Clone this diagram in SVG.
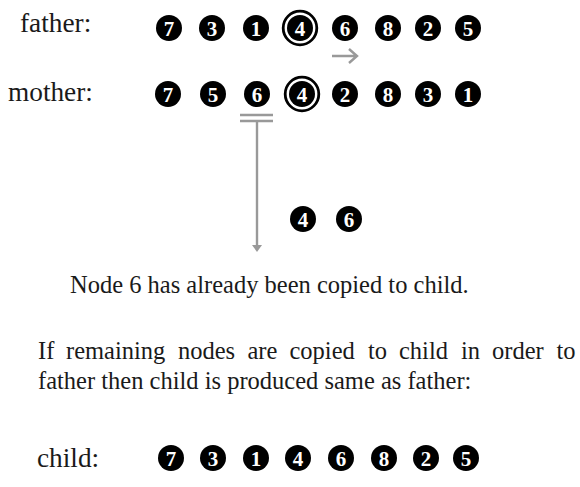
<svg xmlns="http://www.w3.org/2000/svg" width="580" height="487" viewBox="0 0 580 487">
<style>
.lbl{font-family:"Liberation Serif","Times New Roman",serif;font-size:27.3px;fill:#1a1a1a}
.body{font-family:"Liberation Serif","Times New Roman",serif;font-size:24.5px;fill:#1a1a1a}
.dot{fill:#000}
.num{font-family:"Liberation Serif","Times New Roman",serif;font-size:21px;font-weight:bold;fill:#fff;text-anchor:middle}
.ring{fill:#fff;stroke:#000;stroke-width:2.8}
.con{stroke:#999;stroke-width:2.4;fill:none}
</style>
<rect width="580" height="487" fill="#fff"/>
<text class="lbl" x="20" y="32">father:</text>
<text class="lbl" x="8" y="101">mother:</text>
<text class="lbl" x="37" y="467">child:</text>
<text class="body" x="70" y="293">Node 6 has already been copied to child.</text>
<text class="body" y="359"><tspan x="38">If</tspan><tspan x="66">remaining</tspan><tspan x="178">nodes</tspan><tspan x="247.5">are</tspan><tspan x="289.5">copied</tspan><tspan x="368">to</tspan><tspan x="399">child</tspan><tspan x="461">in</tspan><tspan x="492">order</tspan><tspan x="556.5">to</tspan></text>
<text class="body" x="38" y="389">father then child is produced same as father:</text>

<g id="father">
<g id="f7" transform="translate(169,28)"><circle class="dot" r="13"/><text class="num" y="7.5">7</text></g>
<g id="f3" transform="translate(212,28)"><circle class="dot" r="13"/><text class="num" y="7.5">3</text></g>
<g id="f1" transform="translate(256,28)"><circle class="dot" r="13"/><text class="num" y="7.5">1</text></g>
<g id="f4" transform="translate(300,28)"><circle class="ring" r="16.8"/><circle class="dot" r="13"/><text class="num" y="7.5">4</text></g>
<g id="f6" transform="translate(345,28)"><circle class="dot" r="13"/><text class="num" y="7.5">6</text></g>
<g id="f8" transform="translate(388,28)"><circle class="dot" r="13"/><text class="num" y="7.5">8</text></g>
<g id="f2" transform="translate(428,28)"><circle class="dot" r="13"/><text class="num" y="7.5">2</text></g>
<g id="f5" transform="translate(468,28)"><circle class="dot" r="13"/><text class="num" y="7.5">5</text></g>
</g>

<g id="mother">
<g id="m7" transform="translate(168,94)"><circle class="dot" r="13"/><text class="num" y="7.5">7</text></g>
<g id="m5" transform="translate(213,94)"><circle class="dot" r="13"/><text class="num" y="7.5">5</text></g>
<g id="m6" transform="translate(257,94)"><circle class="dot" r="13"/><text class="num" y="7.5">6</text></g>
<g id="m4" transform="translate(302,94)"><circle class="ring" r="16.8"/><circle class="dot" r="13"/><text class="num" y="7.5">4</text></g>
<g id="m2" transform="translate(345,94)"><circle class="dot" r="13"/><text class="num" y="7.5">2</text></g>
<g id="m8" transform="translate(388,94)"><circle class="dot" r="13"/><text class="num" y="7.5">8</text></g>
<g id="m3" transform="translate(428,94)"><circle class="dot" r="13"/><text class="num" y="7.5">3</text></g>
<g id="m1" transform="translate(468,94)"><circle class="dot" r="13"/><text class="num" y="7.5">1</text></g>
</g>

<g id="partial">
<g id="p4" transform="translate(303,219)"><circle class="dot" r="13"/><text class="num" y="7.5">4</text></g>
<g id="p6" transform="translate(349,219)"><circle class="dot" r="13"/><text class="num" y="7.5">6</text></g>
</g>

<g id="child">
<g id="c7" transform="translate(171,458)"><circle class="dot" r="13"/><text class="num" y="7.5">7</text></g>
<g id="c3" transform="translate(213,458)"><circle class="dot" r="13"/><text class="num" y="7.5">3</text></g>
<g id="c1" transform="translate(256,458)"><circle class="dot" r="13"/><text class="num" y="7.5">1</text></g>
<g id="c4" transform="translate(298,458)"><circle class="dot" r="13"/><text class="num" y="7.5">4</text></g>
<g id="c6" transform="translate(341,458)"><circle class="dot" r="13"/><text class="num" y="7.5">6</text></g>
<g id="c8" transform="translate(384,458)"><circle class="dot" r="13"/><text class="num" y="7.5">8</text></g>
<g id="c2" transform="translate(426,458)"><circle class="dot" r="13"/><text class="num" y="7.5">2</text></g>
<g id="c5" transform="translate(466,458)"><circle class="dot" r="13"/><text class="num" y="7.5">5</text></g>
</g>

<g id="connectors">
<path class="con" d="M332,56 H357 M349,49 L357,56 L349,63"/>
<path class="con" d="M240,115 H273 M240,121 H273"/>
<path class="con" d="M257,121 V246"/>
<polygon points="252,245 262,245 257,252" fill="#999"/>
</g>
</svg>
